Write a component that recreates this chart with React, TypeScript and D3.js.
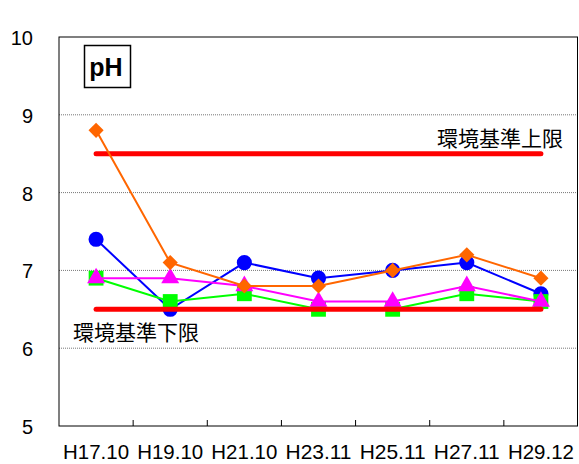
import * as d3 from 'd3';
import React, { useRef, useEffect } from 'react';

const categories = ['H17.10', 'H19.10', 'H21.10', 'H23.11', 'H25.11', 'H27.11', 'H29.12'];
const blueValues = [7.4, 6.5, 7.1, 6.9, 7.0, 7.1, 6.7];
const greenValues = [6.9, 6.6, 6.7, 6.5, 6.5, 6.7, 6.6];
const magentaValues = [6.9, 6.9, 6.8, 6.6, 6.6, 6.8, 6.6];
const orangeValues = [8.8, 7.1, 6.8, 6.8, 7.0, 7.2, 6.9];
const yTicks = [5, 6, 7, 8, 9, 10];
const upperLimit = 8.5;
const lowerLimit = 6.5;
const upperLabel = '環境基準上限';
const lowerLabel = '環境基準下限';
const titleLabel = 'pH';

const width = 579;
const height = 464;

const PhChart = () => {
  const svgRef = useRef<SVGSVGElement | null>(null);

  useEffect(() => {
    if (!svgRef.current) return;
    const svg = d3.select(svgRef.current);
    svg.selectAll('*').remove();

    const margin = { top: 37, right: 1, bottom: 38, left: 59 };
    const x = d3.scaleBand<string>()
      .domain(categories)
      .range([margin.left, width - margin.right]);
    const y = d3.scaleLinear()
      .domain([5, 10])
      .range([height - margin.bottom, margin.top]);
    const cx = (i: number) => (x(categories[i]) as number) + x.bandwidth() / 2;

    // dotted grid lines
    svg.append('g')
      .selectAll('line')
      .data(yTicks.filter((t) => t > 5 && t < 10))
      .enter()
      .append('line')
      .attr('x1', margin.left)
      .attr('x2', width - margin.right)
      .attr('y1', (d) => y(d))
      .attr('y2', (d) => y(d))
      .attr('stroke', '#777')
      .attr('stroke-width', 1)
      .attr('stroke-dasharray', '1,1');

    // frame
    svg.append('rect')
      .attr('x', margin.left)
      .attr('y', margin.top)
      .attr('width', width - margin.left - margin.right - 0.5)
      .attr('height', height - margin.top - margin.bottom)
      .attr('fill', 'none')
      .attr('stroke', '#000')
      .attr('stroke-width', 1);

    // x ticks at band boundaries
    svg.append('g')
      .selectAll('line')
      .data(categories.slice(1))
      .enter()
      .append('line')
      .attr('x1', (d) => x(d) as number)
      .attr('x2', (d) => x(d) as number)
      .attr('y1', y(5))
      .attr('y2', y(5) - 6)
      .attr('stroke', '#000');

    // y labels
    svg.append('g')
      .selectAll('text')
      .data(yTicks)
      .enter()
      .append('text')
      .attr('x', 33)
      .attr('y', (d) => y(d) + 8)
      .attr('text-anchor', 'end')
      .attr('font-family', 'Liberation Sans, Arial, sans-serif')
      .attr('font-size', 20)
      .text((d) => d);

    // x labels (narrow gothic look)
    svg.append('g')
      .selectAll('text')
      .data(categories)
      .enter()
      .append('text')
      .attr('x', (d, i) => cx(i) - 33)
      .attr('y', 459)
      .attr('textLength', 66)
      .attr('lengthAdjust', 'spacingAndGlyphs')
      .attr('font-family', 'Liberation Sans, Arial, sans-serif')
      .attr('font-size', 21)
      .text((d) => d);

    const line = (vals: number[]) =>
      d3.line<number>().x((d, i) => cx(i)).y((d) => y(d))(vals);

    const drawSeries = (vals: number[], color: string, symbol: d3.SymbolType, size: number, rotate = 0) => {
      svg.append('path')
        .attr('d', line(vals))
        .attr('fill', 'none')
        .attr('stroke', color)
        .attr('stroke-width', 2);
      svg.append('g')
        .selectAll('path')
        .data(vals)
        .enter()
        .append('path')
        .attr('d', d3.symbol().type(symbol).size(size)())
        .attr('transform', (d, i) => `translate(${cx(i)},${y(d)}) rotate(${rotate})`)
        .attr('fill', color);
    };

    drawSeries(blueValues, '#0000ff', d3.symbolCircle, 180);
    drawSeries(greenValues, '#00ff00', d3.symbolSquare, 220);
    drawSeries(magentaValues, '#ff00ff', d3.symbolTriangle, 140);

    // limit lines
    [upperLimit, lowerLimit].forEach((v) => {
      svg.append('line')
        .attr('x1', cx(0))
        .attr('x2', cx(categories.length - 1))
        .attr('y1', y(v))
        .attr('y2', y(v))
        .attr('stroke', '#ff0000')
        .attr('stroke-width', 5)
        .attr('stroke-linecap', 'round');
    });

    drawSeries(orangeValues, '#ff6600', d3.symbolSquare, 115, 45);

    const jp = 'Noto Sans CJK JP, sans-serif';
    svg.append('text')
      .attr('x', 437)
      .attr('y', 139)
      .attr('dy', '0.35em')
      .attr('font-family', jp)
      .attr('font-size', 21)
      .text(upperLabel);
    svg.append('text')
      .attr('x', 73)
      .attr('y', 333)
      .attr('dy', '0.35em')
      .attr('font-family', jp)
      .attr('font-size', 21)
      .text(lowerLabel);

    // title box
    svg.append('rect')
      .attr('x', 84.5)
      .attr('y', 45.5)
      .attr('width', 46)
      .attr('height', 42)
      .attr('fill', '#fff')
      .attr('stroke', '#000')
      .attr('stroke-width', 1.5);
    svg.append('text')
      .attr('x', 106)
      .attr('y', 76)
      .attr('text-anchor', 'middle')
      .attr('font-family', 'Liberation Sans, Arial, sans-serif')
      .attr('font-weight', 'bold')
      .attr('font-size', 25)
      .text(titleLabel);
  }, []);

  return <svg ref={svgRef} width={width} height={height} style={{ display: 'block' }} />;
};

export default function App() {
  return (
    <div style={{ position: 'absolute', left: 0, top: 0, background: '#fff' }}>
      <PhChart />
    </div>
  );
}
